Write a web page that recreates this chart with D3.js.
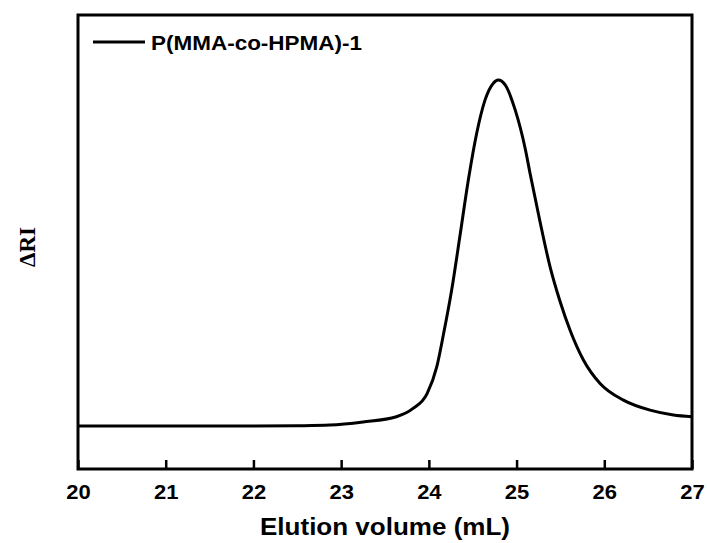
<!DOCTYPE html>
<html>
<head>
<meta charset="utf-8">
<script src="https://cdn.jsdelivr.net/npm/d3@7"></script>
<style>
  body { margin: 0; background: #fff; }
</style>
</head>
<body>
<script>
let width = 707,
    height = 543

// GPC trace (baseline = 0, peak = 1)
const elution = [20, 21, 22, 22.5, 22.87, 23.25, 23.63, 23.82, 23.98, 24.09, 24.165, 24.26, 24.356, 24.45, 24.546, 24.64, 24.735, 24.79, 24.87, 24.985, 25.1, 25.154, 25.268, 25.382, 25.496, 25.61, 25.762, 25.952, 26.218, 26.522, 26.788, 27]
const signal = [0, 0, 0, 0.001, 0.003, 0.012, 0.027, 0.051, 0.094, 0.171, 0.263, 0.393, 0.552, 0.711, 0.847, 0.942, 0.991, 1.0, 0.986, 0.913, 0.8, 0.73, 0.59, 0.46, 0.36, 0.277, 0.191, 0.123, 0.075, 0.046, 0.032, 0.027]
const xTicks = [20, 21, 22, 23, 24, 25, 26, 27]
const seriesName = 'P(MMA-co-HPMA)-1'

const margin = {top: 15, right: 15, bottom: 74, left: 78}
const plotW = width - margin.left - margin.right,
      plotH = height - margin.top - margin.bottom

let svg = d3.select('body').append('svg')
    .attr('width', width)
    .attr('height', height)

let x = d3.scaleLinear().domain([20, 27]).range([0, plotW])
let y = d3.scaleLinear().domain([-0.124, 1.188]).range([plotH, 0])

let g = svg.append('g')
    .attr('transform', 'translate(' + margin.left + ',' + margin.top + ')')

let data = elution.map((v, i) => ({x: v, y: signal[i]}))

let line = d3.line()
    .x(d => x(d.x))
    .y(d => y(d.y))
    .curve(d3.curveMonotoneX)

g.append('path')
    .datum(data)
    .attr('d', line)
    .style('fill', 'none')
    .style('stroke', '#000')
    .style('stroke-width', 3)
    .style('stroke-linejoin', 'round')

// bottom axis, ticks pointing in
let xAxis = g.append('g')
    .attr('transform', 'translate(0,' + plotH + ')')
    .call(d3.axisBottom(x).tickValues(xTicks).tickSize(-9).tickPadding(16).tickFormat(d3.format('d')))
xAxis.select('.domain').remove()
xAxis.selectAll('.tick line')
    .style('stroke', '#000')
    .style('stroke-width', 2.5)
xAxis.selectAll('.tick text')
    .style('font-family', 'Arial, "Liberation Sans", sans-serif')
    .style('font-weight', 'bold')
    .style('font-size', '20px')
    .style('fill', '#000')
    .attr('transform', 'scale(1.1,1)')

// frame
g.append('rect')
    .attr('width', plotW)
    .attr('height', plotH)
    .style('fill', 'none')
    .style('stroke', '#000')
    .style('stroke-width', 3)

// legend
g.append('line')
    .attr('x1', 15).attr('x2', 67)
    .attr('y1', 27).attr('y2', 27)
    .style('stroke', '#000')
    .style('stroke-width', 3)
g.append('text')
    .attr('x', 73)
    .attr('y', 35)
    .attr('textLength', 211)
    .attr('lengthAdjust', 'spacingAndGlyphs')
    .style('font-family', 'Arial, "Liberation Sans", sans-serif')
    .style('font-weight', 'bold')
    .style('font-size', '20px')
    .text(seriesName)

// axis titles
svg.append('text')
    .attr('x', margin.left + plotW / 2)
    .attr('y', 535)
    .attr('text-anchor', 'middle')
    .attr('textLength', 250)
    .attr('lengthAdjust', 'spacingAndGlyphs')
    .style('font-family', 'Arial, "Liberation Sans", sans-serif')
    .style('font-weight', 'bold')
    .style('font-size', '23px')
    .text('Elution volume (mL)')

svg.append('text')
    .attr('transform', 'translate(35,247) rotate(-90)')
    .attr('text-anchor', 'middle')
    .style('font-family', '"Times New Roman", "Liberation Serif", serif')
    .style('font-weight', 'bold')
    .style('font-size', '23px')
    .text('\u0394RI')
</script>
</body>
</html>
